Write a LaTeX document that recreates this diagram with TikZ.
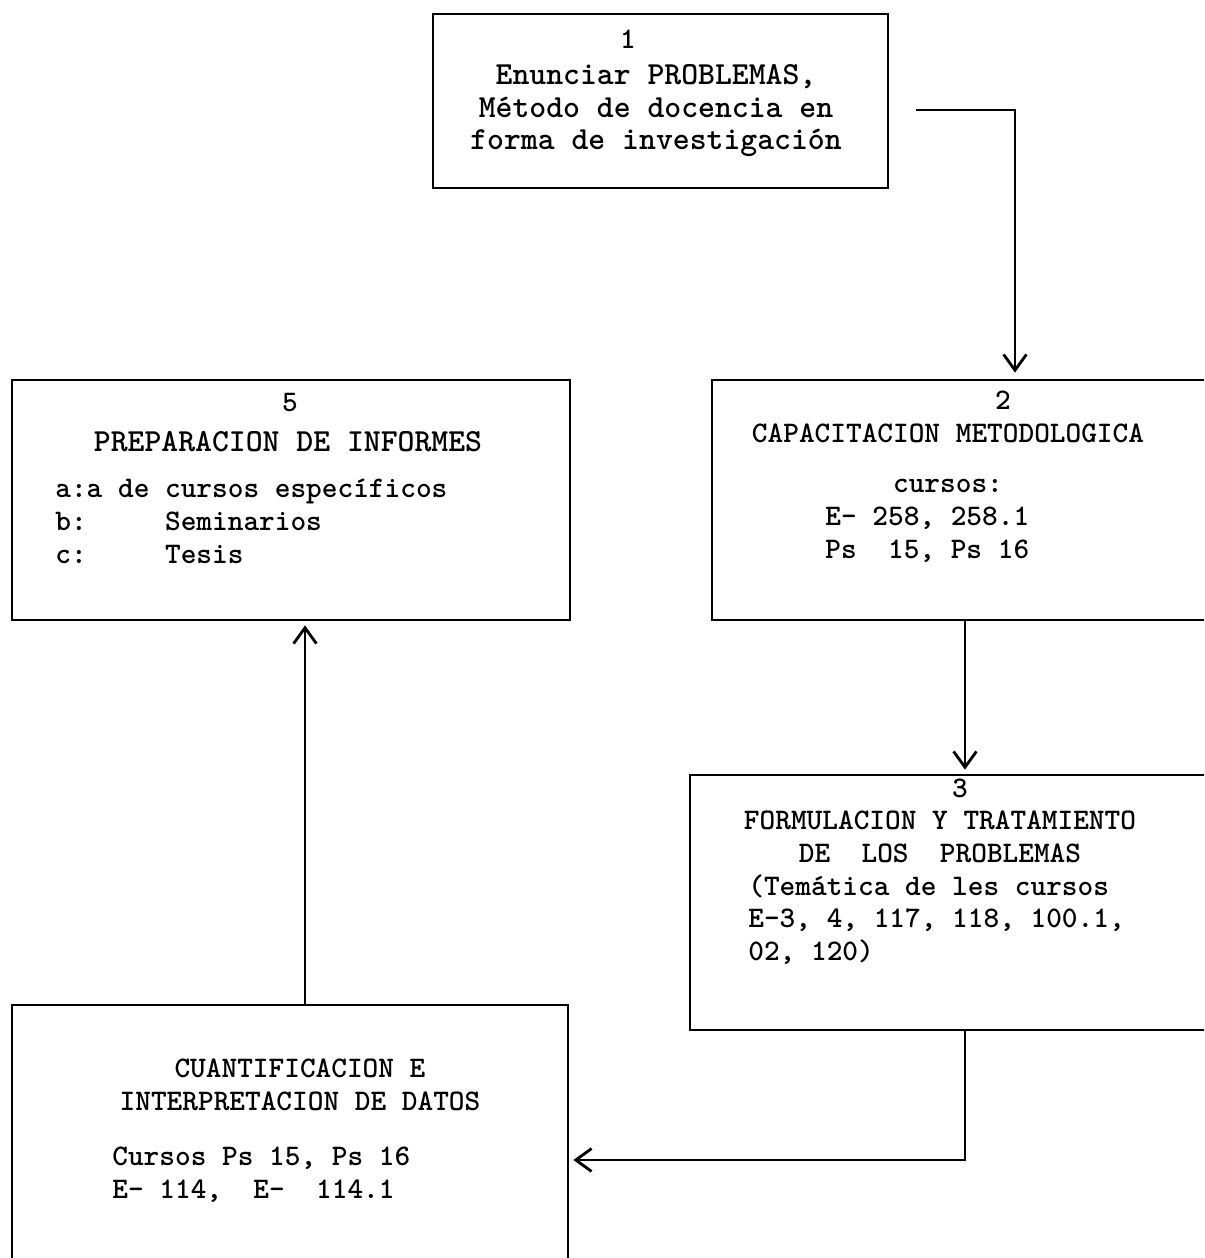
\documentclass[tikz,border=0pt]{standalone}
\usepackage{fontspec}
\usetikzlibrary{calc,arrows.meta}

\tikzset{
  box/.style={draw, line width=1.6pt, inner sep=0pt},
  txt/.style={font=\ttfamily\bfseries\fontsize{17}{18.6}\selectfont, inner sep=0pt},
  bigtxt/.style={font=\ttfamily\bfseries\fontsize{18.3}{18.6}\selectfont, inner sep=0pt},
  arr/.style={line width=1.6pt, -{Straight Barb[length=9pt,width=13pt,line width=1.6pt]}}
}

\begin{document}
\begin{tikzpicture}[x=0.02cm, y=-0.02cm]
\useasboundingbox (0,0) rectangle (1204,1258);
\clip (0,0) rectangle (1204,1258);
% boxes
\node[box, minimum width=9.1cm, minimum height=3.48cm] (b1) at (660.5,101) {};
\node[box, minimum width=9.96cm, minimum height=4.8cm] (b2) at (961,500) {};
\node[box, minimum width=10.4cm, minimum height=5.1cm] (b3) at (950,902.5) {};
\node[box, minimum width=11.12cm, minimum height=5.9cm] (b4) at (290,1152.5) {};
\node[box, minimum width=11.16cm, minimum height=4.8cm] (b5) at (291,500) {};
% texts
\node[txt] (n1) at (628,39) {1};
\node[bigtxt, anchor=north, align=center] (t1) at (656,64) {Enunciar PROBLEMAS,\\Método de docencia en\\forma de investigación};
\node[txt] (n2) at (1003,400) {2};
\node[txt, anchor=north, align=center] (t2) at (948,424) {CAPACITACION METODOLOGICA\\[0.34cm]cursos:};
\node[txt, anchor=north west, align=left] (c2) at (825,507) {E- 258, 258.1\\Ps\ \ 15, Ps 16};
\node[txt] (n3) at (960,788) {3};
\node[txt, anchor=north, align=center] (t3) at (940,811) {FORMULACION Y TRATAMIENTO\\DE\ \ LOS\ \ PROBLEMAS};
\node[txt, anchor=north west, align=left] (c3) at (748,874) {(Temática de les cursos\\E-3, 4, 117, 118, 100.1,\\02, 120)};
\node[txt, anchor=north, align=center] (t4) at (300,1059) {CUANTIFICACION E\\INTERPRETACION DE DATOS};
\node[txt, anchor=north west, align=left] (c4) at (112,1147) {Cursos Ps 15, Ps 16\\E- 114,\ \ E-\ \ 114.1};
\node[txt] (n5) at (290,403) {5};
\node[bigtxt, anchor=north, align=center] (t5) at (288,431) {PREPARACION DE INFORMES};
\node[txt, anchor=north west, align=left] (c5) at (55,479) {a:a de cursos específicos\\b:\ \ \ \ \ Seminarios\\c:\ \ \ \ \ Tesis};
% connectors
\draw[arr] ($(b1.east)+(27,9)$) -| ($(b2.north)+(54,-6)$);
\draw[arr] ($(b2.south)+(4,0)$) -- ($(b3.north)+(15,-4)$);
\draw[arr] ($(b3.south)+(15,0)$) |- ($(b4.east)+(4,7.5)$);
\draw[arr] ($(b4.north)+(15,0)$) -- ($(b5.south)+(14,4)$);
\end{tikzpicture}
\end{document}
